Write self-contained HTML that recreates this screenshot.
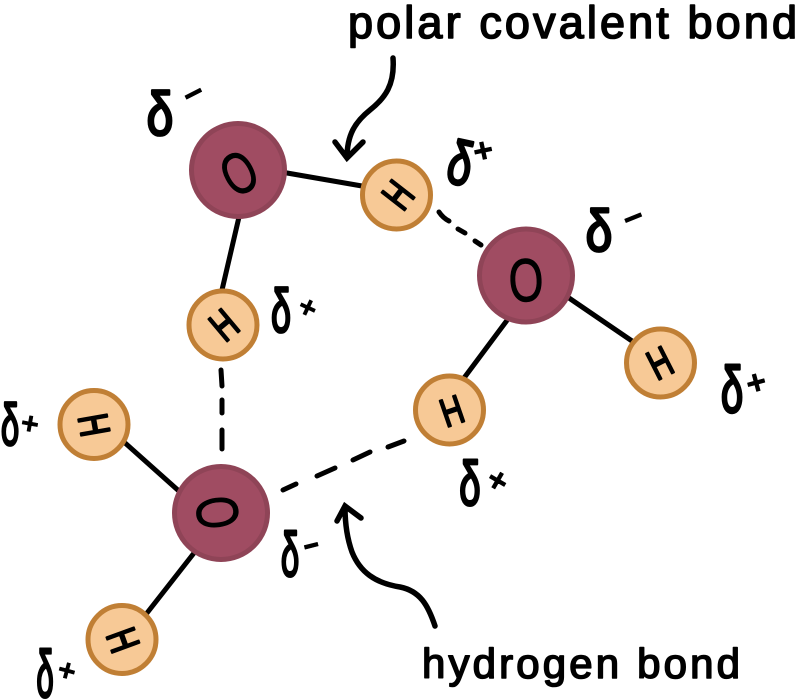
<!DOCTYPE html>
<html><head><meta charset="utf-8"><style>
html,body{margin:0;padding:0;background:#fff;width:800px;height:699px;overflow:hidden}
svg{display:block}
text{font-family:"Liberation Sans",sans-serif;fill:#000;stroke:#000;stroke-linejoin:round;stroke-linecap:round}
.h{font-size:42px;text-anchor:middle;stroke-width:2.2}
.o{font-size:62px;text-anchor:middle;stroke-width:1}
.d{font-size:60px;text-anchor:middle;stroke-width:2.8}
.s{font-size:34px;font-weight:700;text-anchor:middle;stroke-width:.6}
.t{stroke-width:1.6}
.b{stroke:#000;stroke-width:5;stroke-linecap:round;fill:none}
.a{stroke-width:5.5}
.ox{fill:#a04c62;stroke:#8f4457;stroke-width:5}
.hy{fill:#f7c996;stroke:#c07f35;stroke-width:5}
</style></head><body>
<svg width="800" height="699" viewBox="0 0 800 699" xmlns="http://www.w3.org/2000/svg">
<rect width="800" height="699" fill="#fff"/>
<!-- bonds -->
<path class="b" d="M287 173L362 186M239 217L222 290M569 298L632 341M508 319L464 378M124 442L180 492M194 553L147 613"/>
<!-- dashes -->
<path class="b" d="M439 212Q443 218 449 221M458 229L465 233M475 241L481 245M221 370L222 386M222 400L222 413M222 430L222 449M283 490L296 484M317 476L335 468M353 460L370 452M388 447L404 441"/>
<!-- arrows -->
<path class="b a" d="M393 58C395 85 385 98 370 110C355 122 347 135 347 158M335 142L347 158L363 142"/>
<path class="b a" d="M435 626C428 605 420 591 400 587C375 583 360 572 352 552C347 538 345 522 345 507M337 521L345 506L361 518"/>
<!-- atoms -->
<circle class="ox" cx="238" cy="170" r="46.5"/>
<circle class="ox" cx="526" cy="275.5" r="46.5"/>
<circle class="ox" cx="221" cy="513" r="46.5"/>
<circle class="hy" cx="396.5" cy="195" r="34"/>
<circle class="hy" cx="223" cy="325" r="34"/>
<circle class="hy" cx="449.500" cy="410" r="34"/>
<circle class="hy" cx="660.500" cy="363" r="34"/>
<circle class="hy" cx="94" cy="424.500" r="34"/>
<circle class="hy" cx="122" cy="639.500" r="34"/>
<!-- O -->
<text class="o" transform="translate(239 173) rotate(-28) scale(.68 .95)" y="21.500">O</text>
<text class="o" transform="translate(526 280) rotate(-3) scale(.72 .98)" y="21.500">O</text>
<text class="o" transform="translate(217.500 512.500) rotate(82) scale(.68 .95)" y="21.500">O</text>
<!-- H -->
<text class="h" transform="translate(398 195) rotate(-52) scale(.72 1)" y="14.500">H</text>
<text class="h" transform="translate(224 325) rotate(-40) scale(.72 1)" y="14.500">H</text>
<text class="h" transform="translate(452 411) rotate(-19) scale(.72 .95)" y="14.500">H</text>
<text class="h" transform="translate(660 363) rotate(-27) scale(.72 1)" y="14.500">H</text>
<text class="h" transform="translate(94 425) rotate(80) scale(.72 1)" y="14.500">H</text>
<text class="h" transform="translate(123 640) rotate(70) scale(.72 1)" y="14.500">H</text>
<!-- deltas -->
<text class="d" transform="translate(160 135) scale(.8 1.02)">δ</text>
<text class="d" transform="translate(456 184) rotate(12) scale(.72 1.02)">δ</text>
<text class="d" transform="translate(599 251) scale(.8 .98)">δ</text>
<text class="d" transform="translate(732 412) scale(.67 1.08)">δ</text>
<text class="d" transform="translate(470 505) scale(.64 1.04)">δ</text>
<text class="d" transform="translate(281 332) scale(.6 1.02)">δ</text>
<text class="d" transform="translate(10 445) scale(.55 .98)">δ</text>
<text class="d" transform="translate(45 697) scale(.52 1.1)">δ</text>
<text class="d" transform="translate(290 576) scale(.55 1.04)">δ</text>
<!-- signs -->
<text class="s" transform="translate(193 93) rotate(-27)" y="12">−</text>
<text class="s" transform="translate(633 217) rotate(-22)" y="12">−</text>
<text class="s" transform="translate(311 545) rotate(-14) scale(.8 1)" y="12">−</text>
<text class="s" transform="translate(483 150) rotate(-12)" y="12">+</text>
<text class="s" transform="translate(756 382) rotate(-15)" y="12">+</text>
<text class="s" transform="translate(498 480) rotate(30)" y="12">+</text>
<text class="s" transform="translate(308 307) rotate(25) scale(.9)" y="12">+</text>
<text class="s" transform="translate(30 423) rotate(10) scale(.9)" y="12">+</text>
<text class="s" transform="translate(67 670) rotate(15) scale(.9)" y="12">+</text>
<!-- labels -->
<text class="t" x="348" y="38" font-size="45" textLength="449" lengthAdjust="spacing">polar covalent bond</text>
<text class="t" x="422" y="678" font-size="42" textLength="318" lengthAdjust="spacing">hydrogen bond</text>
</svg>
</body></html>
